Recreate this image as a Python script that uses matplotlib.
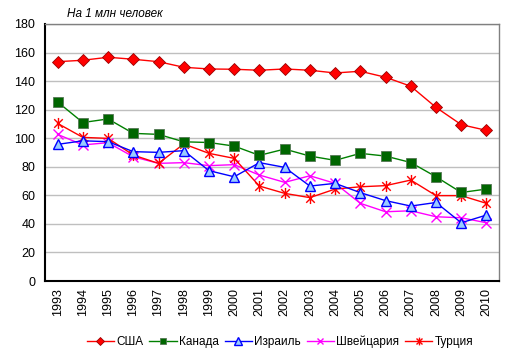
import matplotlib.pyplot as plt
import numpy as np
from matplotlib.path import Path

plt.rcParams['font.family'] = ['Liberation Sans', 'DejaVu Sans']

years = [str(y) for y in range(1993, 2011)]
usa = [153.6, 154.6, 156.7, 155.3, 153.6, 149.7, 148.5, 148.3, 147.6, 148.5,
       147.6, 145.7, 146.9, 142.7, 136.4, 121.6, 109.5, 105.5]
canada = [125.4, 111.0, 113.5, 103.4, 102.7, 97.5, 97.0, 94.5, 88.0, 92.4,
          87.5, 84.5, 89.4, 87.5, 83.0, 73.0, 62.0, 64.4]
israel = [95.7, 98.2, 97.6, 90.6, 90.1, 91.3, 77.3, 73.0, 82.9, 79.6,
          66.5, 68.4, 61.9, 56.3, 52.5, 55.0, 40.8, 46.2]
swiss = [102.7, 95.3, 96.9, 87.0, 82.4, 82.9, 80.8, 81.5, 74.2, 69.1,
         73.7, 68.4, 54.4, 48.5, 49.2, 45.0, 44.3, 40.8]
turkey = [110.4, 100.6, 99.9, 88.2, 82.4, 96.0, 89.4, 85.9, 66.5, 61.4,
          58.4, 64.4, 66.0, 66.8, 70.7, 59.8, 59.8, 54.4]

# asterisk like the Excel one: an x with a vertical stroke
star = Path([(-1, -1), (1, 1), (-1, 1), (1, -1), (0, -1.3), (0, 1.3)],
            [Path.MOVETO, Path.LINETO, Path.MOVETO, Path.LINETO,
             Path.MOVETO, Path.LINETO])

fig = plt.figure(figsize=(5.14, 3.58), dpi=100)
ax = fig.add_axes([0.0875, 0.215, 0.8835, 0.718])

x = np.arange(len(years))
ax.plot(x, usa, color='#FF0000', lw=1, marker='D', ms=6,
        mfc='#FF0000', mec='#990000', mew=0.6, label='США', zorder=5)
ax.plot(x, canada, color='#008000', lw=1, marker='s', ms=6.5,
        mfc='#006600', mec='#557755', mew=0.6, label='Канада', zorder=4)
ax.plot(x, israel, color='#0000FF', lw=1, marker='^', ms=7.5,
        mfc='#99CCFF', mec='#0000FF', mew=1, label='Израиль', zorder=3)
ax.plot(x, swiss, color='#FF00FF', lw=1, marker='x', ms=7,
        mec='#FF00FF', mew=1, label='Швейцария', zorder=2)
ax.plot(x, turkey, color='#FF0000', lw=1, marker=star, ms=8,
        mec='#FF0000', mew=1, label='Турция', zorder=2)

ax.set_xlim(-0.5, len(years) - 0.5)
ax.set_ylim(0, 180)
ax.set_yticks(range(0, 181, 20))
ax.set_xticks(x)
ax.set_xticklabels(years, rotation=90)
ax.tick_params(axis='y', length=0, labelsize=9, pad=7)
ax.tick_params(axis='x', length=0, labelsize=9, pad=5)
ax.yaxis.grid(True, color='#BFBFBF', lw=1)
ax.set_axisbelow(True)

for side in ['left', 'bottom']:
    ax.spines[side].set_color('black')
    ax.spines[side].set_linewidth(1.5)
for side in ['top', 'right']:
    ax.spines[side].set_color('#808080')
    ax.spines[side].set_linewidth(1)

fig.text(0.13, 0.96, 'На 1 млн человек', fontsize=8.5, style='italic',
         ha='left', va='center')

fig.legend(loc='center', bbox_to_anchor=(0.545, 0.045), ncol=5, fontsize=8.5,
           frameon=False, handlelength=2.3, handletextpad=0.2,
           columnspacing=0.5, markerscale=0.7)

plt.savefig('out.png', dpi=100)
